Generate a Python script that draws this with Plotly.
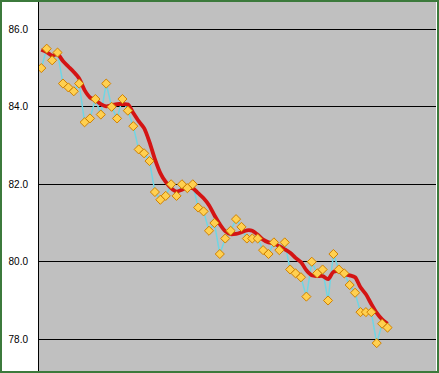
import plotly.graph_objects as go

# Observed values (orange diamonds)
values = [85.0, 85.5, 85.2, 85.4, 84.6, 84.5, 84.4, 84.6, 83.6, 83.7,
          84.2, 83.8, 84.6, 84.0, 83.7, 84.2, 83.9, 83.5, 82.9, 82.8,
          82.6, 81.8, 81.6, 81.7, 82.0, 81.7, 82.0, 81.9, 82.0, 81.4,
          81.3, 80.8, 81.0, 80.2, 80.6, 80.8, 81.1, 80.9, 80.6, 80.6,
          80.6, 80.3, 80.2, 80.5, 80.3, 80.5, 79.8, 79.7, 79.6, 79.1,
          80.0, 79.7, 79.8, 79.0, 80.2, 79.8, 79.7, 79.4, 79.2, 78.7,
          78.7, 78.7, 77.9, 78.4, 78.3]

# Smoothed trend (red line)
trend = [85.47, 85.41, 85.32, 85.36, 85.18, 85.04, 84.90, 84.73, 84.43, 84.24,
         84.17, 84.07, 84.01, 84.04, 84.07, 84.07, 84.06, 83.84, 83.63, 83.45,
         83.09, 82.65, 82.29, 82.06, 81.90, 81.81, 81.86, 81.91, 81.90, 81.77,
         81.64, 81.46, 81.20, 80.97, 80.79, 80.71, 80.72, 80.76, 80.81, 80.80,
         80.70, 80.57, 80.50, 80.47, 80.40, 80.32, 80.23, 80.10, 79.99, 79.78,
         79.65, 79.63, 79.63, 79.55, 79.74, 79.75, 79.68, 79.65, 79.60, 79.34,
         79.16, 78.91, 78.68, 78.51, 78.40]

x = list(range(len(values)))
tick_vals = [78, 80, 82, 84, 86]

fig = go.Figure()
fig.add_trace(go.Scatter(x=x, y=values, mode="lines",
                         line=dict(color="#6FD6E4", width=1.5), hoverinfo="skip"))
fig.add_trace(go.Scatter(x=x, y=trend, mode="lines",
                         line=dict(color="#D41414", width=3.8, shape="spline", smoothing=0.8)))
fig.add_trace(go.Scatter(x=x, y=values, mode="markers",
                         marker=dict(symbol="diamond", size=7, color="#FFD050",
                                     line=dict(color="#D08000", width=1))))

W, H = 439, 373
L, R, T, B = 39, 3, 2, 2
pw, ph = W - L - R, H - T - B

fig.update_layout(
    width=W, height=H,
    margin=dict(l=L, r=R, t=T, b=B),
    paper_bgcolor="white",
    plot_bgcolor="#C0C0C0",
    showlegend=False,
    xaxis=dict(range=[-0.425, 72.96], showgrid=False, zeroline=False,
               showticklabels=False, ticks="", showline=False),
    yaxis=dict(range=[77.18, 86.705], tickvals=tick_vals, tickformat=".1f",
               showgrid=True, gridcolor="black", gridwidth=1, zeroline=False,
               showline=True, linecolor="black", linewidth=1, ticks="",
               ticklabelstandoff=8,
               tickfont=dict(family="Liberation Sans, Arial, sans-serif", size=10, color="black")),
    shapes=[dict(type="rect", xref="paper", yref="paper",
                 x0=(-L + 1) / pw, x1=(W - L - 1) / pw,
                 y0=(-B + 1) / ph, y1=(H - B - 1) / ph,
                 line=dict(color="#3C7A3C", width=2), fillcolor="rgba(0,0,0,0)", layer="above")],
)

fig.write_html("out.html")
